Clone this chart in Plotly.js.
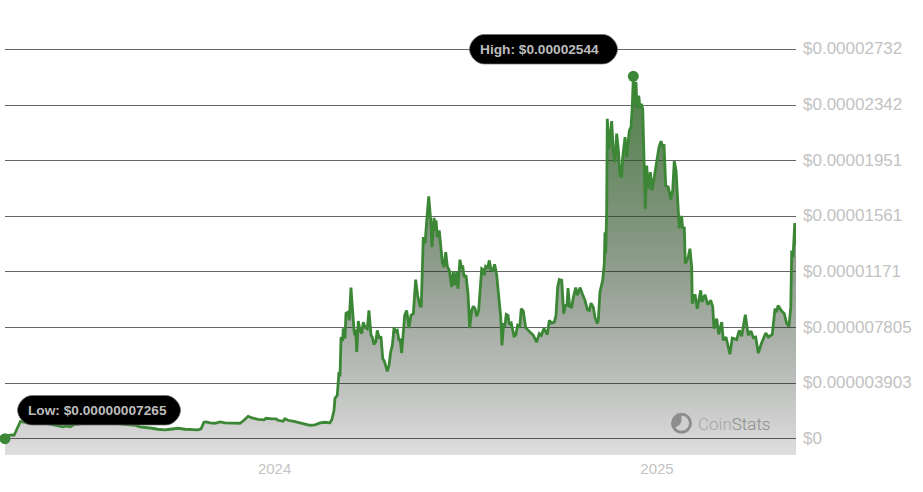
<!DOCTYPE html>
<html><head><meta charset="utf-8">
<script src="https://cdn.plot.ly/plotly-3.0.1.min.js"></script>
<style>html,body{margin:0;padding:0;background:#fff}#c{width:923px;height:492px}</style>
</head><body><div id="c"></div>
<script>
// Days since the first sample (2023-04-18)
const dayOffsets = [0,2.9,5.7,8.6,10,11.5,13.4,14.8,19.1,23.9,28.7,33.5,38.3,43.1,47.9,52.6,55.5,58.4,62.2,67,76.6,86.1,95.7,105.3,114.8,124.4,129.2,134.9,140.7,146.4,153.1,157.9,165.6,172.3,179,184.7,187.6,190.4,192.4,196.2,201,205.8,210.5,217.2,224.9,228.7,232.6,236.4,242.1,247.9,249.8,255.5,259.3,261.3,266,268,270.8,276.6,282.3,286.1,291.9,296.7,301.5,306.2,311,312.9,314.9,315.8,318,319.6,320.6,321.6,323.2,323.7,325.4,326.3,328.5,329.5,331.1,332.8,334,335,335.6,336.6,338.1,339.7,341.4,342.9,344.5,346.7,348.3,350.3,351.5,353.1,354.8,356.3,358.2,359.8,361.5,363,364.6,365.9,367.5,369.1,370.7,372.3,373.9,375.4,377.1,378,379.6,381.2,382.5,384.4,386.6,388.5,390.8,393,394.9,397.2,398.4,400.3,402,403.6,405.5,407.7,408.6,410.6,411.8,412.5,413.7,415.6,417,418.5,420.1,421.8,423.3,425.2,427.5,429,430.7,432.3,433.5,435.4,437.1,438,439.3,441.2,443.1,444.7,446.6,448.2,449.8,451.4,453.3,455.2,456.2,457.7,458.7,460,462,463.5,465.1,467,468.6,470.6,472.8,474.4,475.6,477.3,478.2,479.7,481.4,482.6,484.5,487.1,488.7,490.6,492.6,494.1,496,498.3,500.8,503.1,505.6,508.8,511.3,513.2,515.8,519,520.9,523.2,525.7,527.3,528.9,530.5,532.8,534.7,536.6,537.8,538.8,540.4,542.3,543.9,546.2,547.7,550.3,552.5,555.1,557.3,559.2,560.8,563,564.6,566.8,567.8,569.4,572,573.5,574.2,574.9,575.8,576.4,578,580.6,582.1,583.8,585.4,587,588.6,590.2,591.1,593.4,595,597.5,599.1,600.3,601.3,602.3,603.9,604.8,606.5,607.7,609,610.3,611.5,612.8,614.1,615.6,617.6,619.2,622.1,624.3,625.9,627.8,629.5,630.7,632.3,634.8,637.1,639,640.5,642.2,643.4,644.4,645.3,646,647.6,648.5,650.1,651,653.9,655.5,657.2,657.7,660.3,662.5,665.8,667,669.9,672.5,675.4,677.3,678.5,681.1,683,685.9,687.4,690,693.8,696,700.2,702.7,705,708.5,711.3,713.9,716.1,718.4,720.9,724.1,728,730.5,734.3,736.9,738.5,739.8,743.3,745.8,748.1,750.3,752,752.9,754.2,755.8,757];
// Price in millionths of a dollar
const priceMicro = [0.007,0.21,0.28,0.25,0.46,0.74,1.09,1.23,1.16,1.09,1.16,1.23,1.09,1.02,0.95,0.88,0.84,0.91,0.84,1.02,1.09,1.09,1.16,1.09,1.02,0.95,0.84,0.81,0.74,0.67,0.63,0.67,0.74,0.67,0.63,0.63,0.7,1.16,1.19,1.12,1.09,1.19,1.12,1.09,1.09,1.3,1.58,1.47,1.37,1.33,1.44,1.4,1.4,1.3,1.23,1.4,1.3,1.23,1.09,1.05,0.95,0.98,1.12,1.16,1.12,1.37,2,2.84,3.05,4.69,4.38,7.14,6.86,7.75,7.05,8.8,8.89,8.31,10.61,8.54,7.61,7.26,7.68,6.09,8.26,7.61,7.38,8.19,7.84,7.73,9.01,7.26,7.14,6.63,6.79,7.61,7.03,7.19,5.63,5.46,5.04,4.73,5.16,6.09,6.56,7.8,7.54,7.61,6.86,7.03,6.02,7.38,8.66,9.01,7.77,8.66,8.78,11.17,10.06,9.31,9.31,14.15,13.71,15.33,17.01,15.09,13.45,15.51,14.62,15.33,14.15,14.62,13.69,12.4,12.05,13.1,12.1,11.82,10.65,11.77,10.77,11.7,10.53,12.57,11.94,12.17,11.35,11.47,10.18,7.77,9.01,9.29,9.13,8.59,9.01,11.12,11.94,11.87,11.47,12.1,12.01,12.52,11.87,11.82,12.24,11.47,9.71,8.54,6.56,8.12,7.84,8.73,8.66,8.01,8.12,7.21,7.26,7.96,7.84,9.13,8.96,7.8,7.61,7.42,7.26,6.79,7.38,7.26,7.73,7.31,8.31,8.12,8.19,8.66,10.65,11.17,11.12,8.78,9.43,9.29,10.58,9.29,9.24,9.92,10.61,10.07,10.61,10.18,9.71,9.06,9.01,9.52,9.24,8.54,8.08,8.31,10.3,11.12,12.29,14.5,12.99,16.03,22.46,20.35,22.29,20.24,19.41,21.41,20.24,18.48,18.43,19.72,21.17,19.77,21.64,21.87,23.27,25.44,23.53,25.03,23.18,24.09,23.18,23.51,23.16,19.77,16.15,19.18,17.55,18.71,17.43,18.71,19.77,20.47,20.89,20.47,20.66,17.78,17.66,16.8,17.43,19.48,18.83,16.85,15.68,14.76,15.56,15.56,14.76,14.86,12.29,12.75,13.34,12.05,9.48,10.14,9.13,10.42,9.6,10.11,9.41,9.71,9.29,7.73,8.43,7.33,8.19,6.91,7.14,5.93,7.07,6.96,7.61,7.19,8.71,7.26,7.56,7.1,7.14,6.02,6.72,7.42,7.14,7.33,9.13,8.89,9.36,8.96,8.78,8.08,7.89,9.24,13.22,12.75,15.14,13.57];
const yTickVals = [0,3.903,7.805,11.71,15.61,19.51,23.42,27.32];
const yTickText = ['$0','$0.000003903','$0.000007805','$0.00001171','$0.00001561','$0.00001951','$0.00002342','$0.00002732'];
const xTickVals = ['2024-01-01','2025-01-01'];
const xTickText = ['2024','2025'];
const lowDay = 0, lowPrice = 0.007, highDay = 601.3, highPrice = 25.44;
const lowLabel = 'Low: $0.00000007265', highLabel = 'High: $0.00002544';

const W=923,H=492,L=5,R=796,T=20,B=455;
const yMin=-1.137,yMax=29.389;
const toDate=d=>new Date(Date.UTC(2023,3,18)+d*864e5).toISOString().slice(0,19).replace('T',' ');
const xs=dayOffsets.map(toDate);
const px=x=>(x-L)/(R-L), py=y=>(B-y)/(B-T);
const GREEN='#3c8736';
const LABEL='"Liberation Sans",Arial,sans-serif';

function pill(x0,x1,y0,y1){
  const r=(y1-y0)/2,w=(x1-x0),k=r;
  return {type:'path',layer:'above',xref:'paper',yref:'paper',xsizemode:'pixel',ysizemode:'pixel',
    xanchor:px(x0),yanchor:py(y1),
    path:`M ${k} 0 L ${w-k} 0 C ${w-k*0.45} 0 ${w} ${k*0.55} ${w} ${k} C ${w} ${k*1.45} ${w-k*0.45} ${2*k} ${w-k} ${2*k} L ${k} ${2*k} C ${k*0.45} ${2*k} 0 ${k*1.45} 0 ${k} C 0 ${k*0.55} ${k*0.45} 0 ${k} 0 Z`,
    fillcolor:'#000',line:{color:'rgba(110,110,110,0.7)',width:1}};
}
const logoX=681.5,logoY=423.3;
const shapes=[
  pill(469.5,617.5,34.5,64),
  pill(17.5,180.5,395.5,425),
  {type:'circle',layer:'above',xref:'paper',yref:'paper',xsizemode:'pixel',ysizemode:'pixel',xanchor:px(logoX),yanchor:py(logoY),x0:-10.5,x1:10.5,y0:-10.5,y1:10.5,fillcolor:'#8e8e8e',line:{width:0}},
  {type:'path',layer:'above',xref:'paper',yref:'paper',xsizemode:'pixel',ysizemode:'pixel',xanchor:px(logoX),yanchor:py(logoY),
   path:'M 0 7.5 C 4 7.5 7.5 4 7.5 0 C 7.5 -4 4 -7.5 0 -7.5 C -3 -7.5 -5 -6 -6 -4 C -3 -3 -1 -1 0 2 Z',
   fillcolor:'#d0d0d0',line:{width:0}}
];
const traces=[
  {x:[xs[0],xs[xs.length-1]],y:[yMin,yMin],mode:'lines',line:{width:0,color:'rgba(0,0,0,0)'},hoverinfo:'skip',showlegend:false},
  {x:xs,y:priceMicro,mode:'lines',line:{color:GREEN,width:2.8},fill:'tonexty',
   fillgradient:{type:'vertical',start:yMin,stop:highPrice,colorscale:[[0,'rgba(0,0,0,0.13)'],[1,'rgba(50,110,40,0.85)']]},hoverinfo:'skip',showlegend:false},
  {x:[toDate(lowDay),toDate(highDay)],y:[lowPrice,highPrice],mode:'markers',marker:{color:GREEN,size:11},cliponaxis:false,hoverinfo:'skip',showlegend:false}
];
const layout={
  width:W,height:H,margin:{l:L,r:W-R,t:T,b:H-B},paper_bgcolor:'#fff',plot_bgcolor:'#fff',showlegend:false,
  font:{family:LABEL},
  xaxis:{type:'date',range:[toDate(0),toDate(757)],tickmode:'array',tickvals:xTickVals,ticktext:xTickText,showgrid:false,zeroline:false,showline:false,ticks:'',tickfont:{size:15,color:'#c4c4c4'},ticklabelstandoff:3},
  yaxis:{side:'right',range:[yMin,yMax],tickmode:'array',tickvals:yTickVals,ticktext:yTickText,showgrid:true,gridcolor:'#666',gridwidth:1,zeroline:false,showline:false,ticks:'',tickfont:{size:17,color:'#c2c2c2'},ticklabelstandoff:6,ticklabelshift:-1},
  shapes:shapes,
  annotations:[
    {xref:'paper',yref:'paper',x:px(539.5),y:py(49.5),text:highLabel,showarrow:false,font:{size:13.7,color:'#bdbdbd',family:LABEL,weight:700},xanchor:'center',yanchor:'middle'},
    {xref:'paper',yref:'paper',x:px(97),y:py(410.5),text:lowLabel,showarrow:false,font:{size:13.7,color:'#bdbdbd',family:LABEL,weight:700},xanchor:'center',yanchor:'middle'},
    {xref:'paper',yref:'paper',x:px(696),y:py(424),text:'<span style="color:#a6a6a6">Coin</span><span style="color:#8c8c8c">Stats</span>',showarrow:false,font:{size:17,family:'Roboto,sans-serif',weight:300},xanchor:'left',yanchor:'middle'}
  ]
};
Plotly.newPlot('c',traces,layout,{displayModeBar:false,staticPlot:true});
</script></body></html>
